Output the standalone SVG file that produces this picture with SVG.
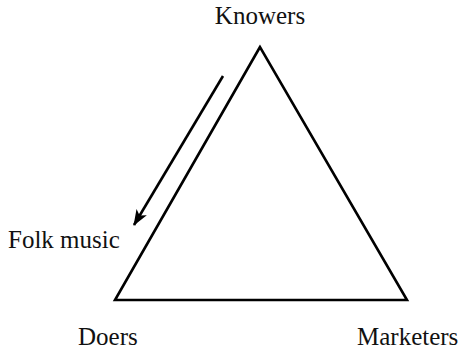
<svg xmlns="http://www.w3.org/2000/svg" width="465" height="353" viewBox="0 0 465 353">
<defs>
<style>
.lbl{font-family:"Liberation Serif","Times New Roman",serif;font-size:25px;fill:#111}
.ln{stroke:#000;stroke-width:2.6;fill:none}
</style>
<marker id="ah" viewBox="0 0 16 12" refX="15" refY="6" markerWidth="16" markerHeight="12" markerUnits="userSpaceOnUse" orient="auto">
<path d="M0,0 L16,6 L0,12 L4,6 Z" fill="#000"/>
</marker>
</defs>
<g id="triangle">
<path class="ln" d="M260,47 L115,300 L407,300 Z" stroke-linejoin="miter"/>
</g>
<g id="connectors">
<line class="ln" x1="223" y1="76" x2="134" y2="225" marker-end="url(#ah)"/>
</g>
<g id="knowers"><text class="lbl" x="260" y="24" text-anchor="middle">Knowers</text></g>
<g id="folk"><text class="lbl" x="8" y="248">Folk music</text></g>
<g id="doers"><text class="lbl" x="78" y="345">Doers</text></g>
<g id="marketers"><text class="lbl" x="357" y="345">Marketers</text></g>
</svg>
